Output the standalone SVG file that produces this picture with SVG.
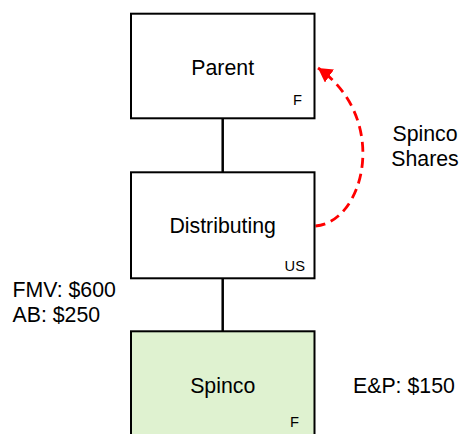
<svg xmlns="http://www.w3.org/2000/svg" width="461" height="434" viewBox="0 0 461 434">
  <defs>
    <style>
      .box { fill: #ffffff; stroke: #000000; stroke-width: 2; }
      .box.spin { fill: #dff2d0; }
      .title { font-family: "Liberation Sans", Arial, sans-serif; font-size: 21.3px; fill: #000000; text-anchor: middle; }
      .tag { font-family: "Liberation Sans", Arial, sans-serif; font-size: 14.7px; fill: #000000; text-anchor: end; }
      .note { font-family: "Liberation Sans", Arial, sans-serif; font-size: 21.3px; fill: #000000; }
      .link { stroke: #000000; stroke-width: 2.5; fill: none; }
      .flow { stroke: #ff0000; stroke-width: 2.8; fill: none; stroke-dasharray: 10 6; }
    </style>
    <marker id="redHead" markerWidth="16" markerHeight="16" refX="14" refY="8" orient="auto" markerUnits="userSpaceOnUse" viewBox="0 0 16 16">
      <path d="M0,0 L14,8 L0,16 Z" fill="#ff0000"/>
    </marker>
  </defs>

  <!-- ownership lines and the share distribution arrow -->
  <g id="connectors">
    <line class="link" x1="222.7" y1="118.3" x2="222.7" y2="172.3"/>
    <line class="link" x1="222.7" y1="278.3" x2="222.7" y2="331.3"/>
    <path class="flow" d="M315.5,226 C365,222 390,118 318,68" marker-end="url(#redHead)"/>
  </g>

  <g id="parent">
    <rect class="box" x="131" y="13.7" width="183.5" height="104.6"/>
    <text class="title" x="222.7" y="75">Parent</text>
    <text class="tag" x="302" y="105">F</text>
  </g>

  <g id="distributing">
    <rect class="box" x="131" y="172.3" width="183.5" height="106"/>
    <text class="title" x="222.7" y="233">Distributing</text>
    <text class="tag" x="305" y="271">US</text>
  </g>

  <g id="spinco">
    <rect class="box spin" x="131" y="331.3" width="183.5" height="110"/>
    <text class="title" x="222.7" y="393">Spinco</text>
    <text class="tag" x="299" y="427">F</text>
  </g>

  <g id="labels">
    <text class="note" x="425" y="141" text-anchor="middle">Spinco</text>
    <text class="note" x="425" y="166" text-anchor="middle">Shares</text>
    <text class="note" x="12.5" y="297">FMV: $600</text>
    <text class="note" x="12.5" y="322">AB: $250</text>
    <text class="note" x="353" y="393">E&amp;P: $150</text>
  </g>
</svg>
